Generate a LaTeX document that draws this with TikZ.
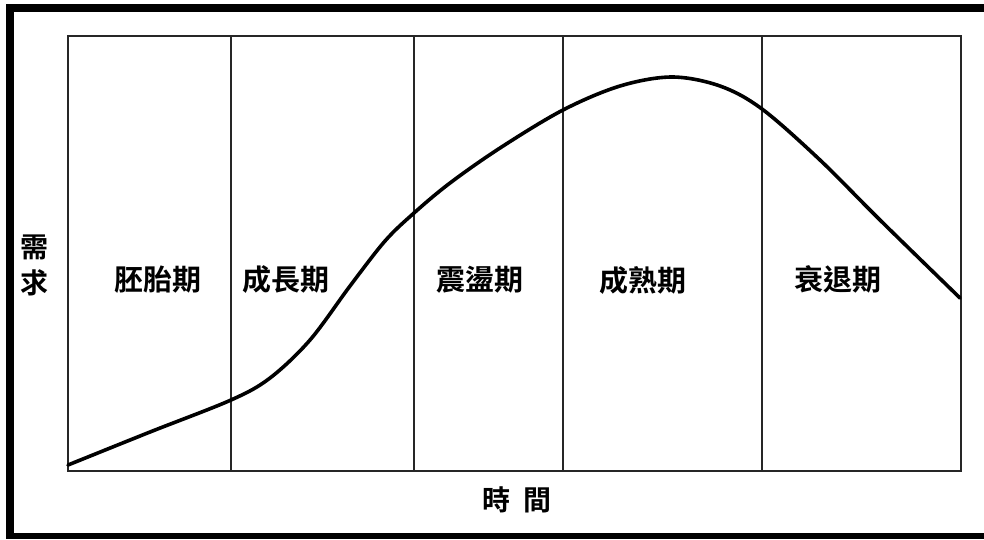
\documentclass[tikz,border=0pt]{standalone}
\usepackage{fontspec}
\newfontfamily\cjk{Noto Sans CJK TC}[BoldFont={Noto Sans CJK TC Bold}]
\begin{document}
\begin{tikzpicture}[x=1pt,y=-1pt,
  frame/.style={line width=1.6pt,draw=black!85},
  divider/.style={line width=1.4pt,draw=black!85},
  curve/.style={line width=3.6pt,line cap=round,line join=round},
  phase/.style={font=\cjk\bfseries\fontsize{29}{29}\selectfont,inner sep=0pt},
  axislab/.style={font=\cjk\bfseries\fontsize{28}{36}\selectfont,inner sep=0pt,align=center}]
\useasboundingbox (0,0) rectangle (984,539);
\fill[white] (0,0) rectangle (984,539);
% outer black border (top, left, bottom)
\fill[black] (6,4) rectangle (984,12);
\fill[black] (6,4) rectangle (14,539);
\fill[black] (6,533) rectangle (984,539);
% plot area
\coordinate (tl) at (68,36);
\coordinate (br) at (961,471);
\draw[frame] (tl) rectangle (br);
\foreach \xx/\nm in {231/a,414/b,563/c,762/d}{
  \coordinate (\nm top) at (\xx,36);
  \coordinate (\nm bot) at (\xx,471);
  \draw[divider] (\nm top) -- (\nm bot);
}
% demand curve
\draw[curve] plot[smooth,tension=0.55] coordinates {
 (68,465) (150,432) (231,400) (270,378) (310,340) (350,286) (385,241) (414,213)
 (450,183) (500,148) (563,110) (620,86) (672,77) (720,86) (762,109)
 (820,160) (880,220) (960,298)};
% labels
\node[phase] (p1) at (158,280) {胚胎期};
\node[phase] (p2) at (286,280) {成長期};
\node[phase] (p3) at (480,280) {震盪期};
\node[phase] (p4) at (643,280) {成熟期};
\node[phase] (p5) at (838,279) {衰退期};
\node[axislab] (ylab) at (34,265) {需\\求};
\node[axislab] (xlab) at (517,500) {時\hspace{0.45em}間};
\end{tikzpicture}
\end{document}
